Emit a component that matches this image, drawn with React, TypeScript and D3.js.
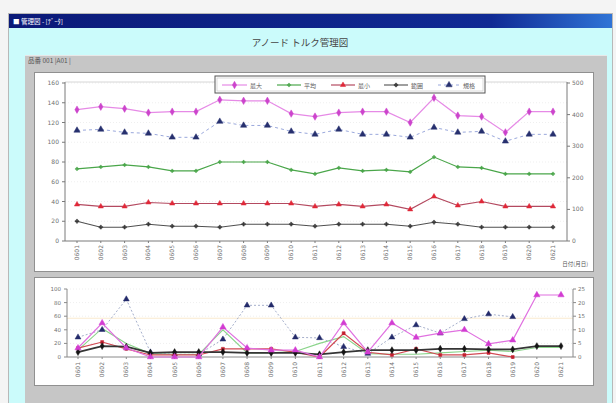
import React from "react";
import * as d3 from "d3";

// ---------- data ----------
const categories = [
  "0601", "0602", "0603", "0604", "0605", "0606", "0607", "0608", "0609", "0610", "0611",
  "0612", "0613", "0614", "0615", "0616", "0617", "0618", "0619", "0620", "0621",
];
const leftTicksUpper = [0, 20, 40, 60, 80, 100, 120, 140, 160];
const rightTicksUpper = [0, 100, 200, 300, 400, 500];
const leftTicksLower = [0, 20, 40, 60, 80, 100];
const rightTicksLower = [0, 5, 10, 15, 20, 25];

const legendNames = ["最大", "平均", "最小", "範囲", "規格"];

// upper chart (left axis)
const upperMax = [133, 136, 134, 130, 131, 131, 143, 142, 142, 129, 126, 130, 131, 131, 120, 145, 127, 126, 110, 131, 131];
const upperAvg = [73, 75, 77, 75, 71, 71, 80, 80, 80, 72, 68, 74, 71, 72, 70, 85, 75, 74, 68, 68, 68];
const upperMin = [37, 35, 35, 39, 38, 38, 38, 38, 38, 38, 35, 37, 35, 37, 32, 45, 36, 40, 35, 35, 35];
const upperRange = [20, 14, 14, 17, 15, 15, 14, 17, 17, 17, 15, 17, 17, 17, 15, 19, 17, 14, 14, 14, 14];
const upperSpec = [112, 113, 110, 109, 105, 105, 121, 117, 117, 111, 108, 113, 108, 108, 105, 115, 110, 111, 101, 108, 108];

// lower chart
const lowerNavy = [29, 40, 85, 7, 4, 4, 26, 76, 76, 29, 28, 15, 5, 29, 47, 35, 56, 63, 59, null, null]; // left
const lowerPink = [3.3, 12.5, 3.3, 0, 0, 0, 11, 3.3, 2.5, 2.5, 0, 12.5, 1.8, 12.5, 7.2, 8.8, 10, 4.8, 6.2, 22.8, 22.8]; // right
const lowerRed = [13, 22, 12, 3, 3, 3, 12, 12, 12, 7, 0, 35, 7, 3, 12, 3, 3, 6, 0, null, null]; // left
const lowerGreen = [10, 42, 20, 5, 4, 4, 40, 6, 6, 8, 20, 30, 5, 4, 4, 6, 8, 10, 8, 14, 14]; // left
const lowerBlack = [1.8, 4, 3.8, 1.5, 1.8, 1.8, 1.8, 1.5, 1.5, 1.5, 1, 1.8, 2.5, 2.5, 2.5, 3, 3, 2.8, 2.8, 4, 4]; // right

const FONT = "'DejaVu Sans', sans-serif";
const JP = "'Noto Sans CJK JP', sans-serif";

type V = number | null;

export default function App() {
  const xU = d3.scalePoint<string>().domain(categories).range([77, 553]);
  const yUL = d3.scaleLinear().domain([0, 160]).range([241, 83]);
  const yUR = d3.scaleLinear().domain([0, 500]).range([241, 83]);
  const xL = d3.scalePoint<string>().domain(categories).range([78, 561]);
  const yLL = d3.scaleLinear().domain([0, 100]).range([357, 289]);
  const yLR = d3.scaleLinear().domain([0, 25]).range([357, 289]);

  const mkLine = (xs: d3.ScalePoint<string>, ys: d3.ScaleLinear<number, number>, vals: V[]) =>
    d3
      .line<V>()
      .defined((v) => v != null)
      .x((_, i) => xs(categories[i]) as number)
      .y((v) => ys(v as number))(vals) || "";

  const sym = (t: d3.SymbolType, s: number) => d3.symbol().type(t).size(s)() || "";

  const upperSeries = [
    { name: legendNames[0], vals: upperMax, line: "#e68ae6", marker: "#cc44cc", dash: "", sym: d3.symbolDiamond, size: 16, w: 1.2 },
    { name: legendNames[1], vals: upperAvg, line: "#4aa64a", marker: "#4aa64a", dash: "", sym: d3.symbolCross, size: 6, w: 1.2 },
    { name: legendNames[2], vals: upperMin, line: "#b44a60", marker: "#e02838", dash: "", sym: d3.symbolTriangle, size: 12, w: 1.2 },
    { name: legendNames[3], vals: upperRange, line: "#505050", marker: "#3a3a3a", dash: "", sym: d3.symbolCross, size: 8, w: 1.1 },
    { name: legendNames[4], vals: upperSpec, line: "#9aa8dc", marker: "#27306e", dash: "3,3", sym: d3.symbolTriangle, size: 17, w: 1 },
  ];

  const legendX = [222, 277, 331, 384, 438];
  const legendW = [25, 24, 24, 24, 22];

  const lowerSeries = [
    { vals: lowerGreen, ys: yLL, line: "#8ad48a", marker: "", dash: "", sym: d3.symbolCircle, size: 0, w: 1.1 },
    { vals: lowerNavy, ys: yLL, line: "#a6b0cc", marker: "#232a6a", dash: "2,2", sym: d3.symbolTriangle, size: 15, w: 1 },
    { vals: lowerRed, ys: yLL, line: "#d24a54", marker: "#c42030", dash: "", sym: d3.symbolSquare, size: 9, w: 1.2 },
    { vals: lowerBlack, ys: yLR, line: "#353535", marker: "#151515", dash: "", sym: d3.symbolDiamond, size: 14, w: 1.8 },
    { vals: lowerPink, ys: yLR, line: "#e070e0", marker: "#d23cd2", dash: "", sym: d3.symbolTriangle, size: 17, w: 1.2 },
  ];

  return (
    <div style={{ position: "absolute", left: 0, top: 0 }}>
      <svg width={616} height={403} style={{ display: "block" }}>
        <defs>
          <linearGradient id="tb" x1="0" x2="1" y1="0" y2="0">
            <stop offset="0" stopColor="#0b1a78" />
            <stop offset="0.8" stopColor="#102a94" />
            <stop offset="1" stopColor="#2f74d6" />
          </linearGradient>
        </defs>
        <rect x={0} y={0} width={616} height={403} fill="#f4f4f4" />
        <rect x={8} y={13} width={605} height={390} fill="#b8b8b8" />
        <rect x={9} y={14} width={603} height={14} fill="url(#tb)" />
        <text x={13} y={24} fontSize={6.5} fill="#ffffff" fontFamily={JP}>
          ■ 管理図 - [ﾃﾞｰﾀ]
        </text>
        <rect x={9} y={28} width={603} height={375} fill="#cbfbfb" />
        <text x={300} y={46} fontSize={9.5} fill="#444" textAnchor="middle" fontFamily={JP}>
          アノード トルク管理図
        </text>
        <rect x={25} y={55} width={582} height={348} fill="#c6c6c6" />
        <rect x={25} y={55} width={582} height={1} fill="#e8e8e8" />
        <text x={28} y={63} fontSize={6.5} fill="#555" fontFamily={JP}>
          品番  001  |A01 |
        </text>
        <rect x={34} y={72} width={560} height={200} fill="#909090" />
        <rect x={35} y={73} width={558} height={198} fill="#ffffff" />
        <rect x={34} y={277} width={560} height={109} fill="#909090" />
        <rect x={35} y={278} width={558} height={107} fill="#ffffff" />

        {/* ---------- upper chart ---------- */}
        {leftTicksUpper.slice(1).map((t) => (
          <line key={"ug" + t} x1={65} x2={567} y1={yUL(t)} y2={yUL(t)} stroke="#efefef" strokeDasharray="1,2" />
        ))}
        <line x1={65} x2={567} y1={82} y2={82} stroke="#d6d6d6" />
        <line x1={65} x2={65} y1={82} y2={241} stroke="#7a7a7a" />
        <line x1={567} x2={567} y1={82} y2={241} stroke="#7a7a7a" />
        <line x1={65} x2={567} y1={241} y2={241} stroke="#7a7a7a" />
        {leftTicksUpper.map((t) => (
          <g key={"ul" + t}>
            <line x1={62} x2={65} y1={yUL(t)} y2={yUL(t)} stroke="#7a7a7a" />
            <text x={59} y={yUL(t) + 2} fontSize={6} fill="#707070" textAnchor="end" fontFamily={FONT}>
              {t}
            </text>
          </g>
        ))}
        {rightTicksUpper.map((t) => (
          <g key={"ur" + t}>
            <line x1={567} x2={570} y1={yUR(t)} y2={yUR(t)} stroke="#7a7a7a" />
            <text x={572} y={yUR(t) + 2} fontSize={6} fill="#707070" fontFamily={FONT}>
              {t}
            </text>
          </g>
        ))}
        {categories.map((c) => (
          <g key={"ux" + c}>
            <line x1={xU(c)} x2={xU(c)} y1={241} y2={243} stroke="#7a7a7a" />
            <text
              transform={`translate(${(xU(c) as number) + 2},${245}) rotate(-90)`}
              fontSize={6}
              fill="#707070"
              textAnchor="end"
              fontFamily={FONT}
            >
              {c}
            </text>
          </g>
        ))}
        <text x={588} y={266} fontSize={5.5} fill="#555" textAnchor="end" fontFamily={JP}>
          日付(月日)
        </text>
        {upperSeries.map((s, k) => (
          <g key={"us" + k}>
            <path d={mkLine(xU, yUL, s.vals)} fill="none" stroke={s.line} strokeWidth={s.w} strokeDasharray={s.dash} />
            {s.vals.map((v, i) => (
              <path
                key={i}
                d={sym(s.sym, s.size)}
                transform={`translate(${xU(categories[i])},${yUL(v)})`}
                fill={s.marker}
                stroke={s.marker}
                strokeWidth={0.5}
              />
            ))}
          </g>
        ))}
        {/* legend */}
        <rect x={215} y={76} width={270} height={17} fill="#ffffff" stroke="#555" strokeWidth={1} />
        <rect x={217} y={78} width={266} height={13} fill="none" stroke="#c4c4c4" strokeWidth={0.6} />
        {upperSeries.map((s, k) => (
          <g key={"lg" + k}>
            <line
              x1={legendX[k]}
              x2={legendX[k] + legendW[k]}
              y1={85}
              y2={85}
              stroke={s.line}
              strokeWidth={s.w}
              strokeDasharray={s.dash}
            />
            <path
              d={sym(s.sym, s.size)}
              transform={`translate(${legendX[k] + legendW[k] / 2},85)`}
              fill={s.marker}
              stroke={s.marker}
              strokeWidth={0.5}
            />
            <text x={legendX[k] + legendW[k] + 3} y={87.5} fontSize={6} fill="#606060" fontFamily={JP}>
              {s.name}
            </text>
          </g>
        ))}

        {/* ---------- lower chart ---------- */}
        {leftTicksLower.slice(1).map((t) => (
          <line key={"lgl" + t} x1={67} x2={573} y1={yLL(t)} y2={yLL(t)} stroke="#efefef" strokeDasharray="1,2" />
        ))}
        <line x1={67} x2={573} y1={yLL(57)} y2={yLL(57)} stroke="#faeacf" strokeWidth={1} />
        <line x1={67} x2={67} y1={289} y2={357} stroke="#8a8a8a" />
        <line x1={573} x2={573} y1={289} y2={357} stroke="#8a8a8a" />
        <line x1={67} x2={573} y1={357} y2={357} stroke="#8a8a8a" />
        {leftTicksLower.map((t) => (
          <g key={"ll" + t}>
            <line x1={64} x2={67} y1={yLL(t)} y2={yLL(t)} stroke="#8a8a8a" />
            <text x={61} y={yLL(t) + 2} fontSize={5.5} fill="#707070" textAnchor="end" fontFamily={FONT}>
              {t}
            </text>
          </g>
        ))}
        {rightTicksLower.map((t) => (
          <g key={"lr" + t}>
            <line x1={573} x2={576} y1={yLR(t)} y2={yLR(t)} stroke="#8a8a8a" />
            <text x={578} y={yLR(t) + 2} fontSize={5.5} fill="#707070" fontFamily={FONT}>
              {t}
            </text>
          </g>
        ))}
        {categories.map((c) => (
          <g key={"lx" + c}>
            <line x1={xL(c)} x2={xL(c)} y1={357} y2={359} stroke="#8a8a8a" />
            <text
              transform={`translate(${(xL(c) as number) + 2},${362}) rotate(-90)`}
              fontSize={6}
              fill="#707070"
              textAnchor="end"
              fontFamily={FONT}
            >
              {c}
            </text>
          </g>
        ))}
        {lowerSeries.map((s, k) => (
          <g key={"ls" + k}>
            <path d={mkLine(xL, s.ys, s.vals)} fill="none" stroke={s.line} strokeWidth={s.w} strokeDasharray={s.dash} />
            {s.size > 0 &&
              s.vals.map((v, i) =>
                v == null ? null : (
                  <path
                    key={i}
                    d={sym(s.sym, s.size)}
                    transform={`translate(${xL(categories[i])},${s.ys(v)})`}
                    fill={s.marker}
                    stroke={s.marker}
                    strokeWidth={0.5}
                  />
                )
              )}
          </g>
        ))}
      </svg>
    </div>
  );
}
